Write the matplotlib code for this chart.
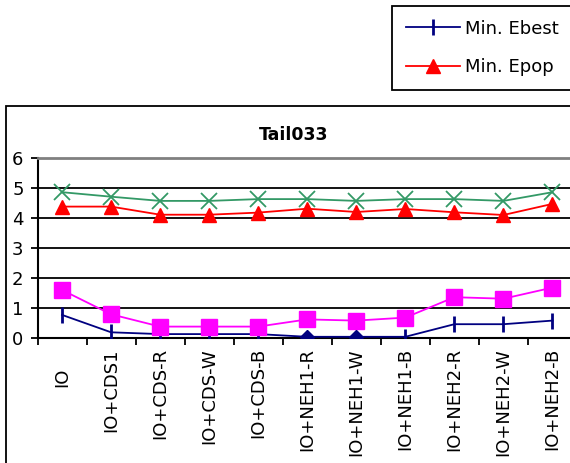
import numpy as np
import matplotlib
matplotlib.use("Agg")
import matplotlib.pyplot as plt
from matplotlib.patches import Rectangle
from matplotlib.transforms import ScaledTranslation

plt.rcParams['font.family'] = ['DejaVu Sans']

# categories along the x axis
labels = ['IO', 'IO+CDS1', 'IO+CDS-R', 'IO+CDS-W', 'IO+CDS-B',
          'IO+NEH1-R', 'IO+NEH1-W', 'IO+NEH1-B',
          'IO+NEH2-R', 'IO+NEH2-W', 'IO+NEH2-B']

# series
min_ebest = [0.78, 0.20, 0.14, 0.14, 0.14, 0.05, 0.05, 0.05, 0.47, 0.47, 0.59]
min_epop = [4.39, 4.39, 4.12, 4.12, 4.19, 4.32, 4.21, 4.31, 4.20, 4.11, 4.48]
magenta_vals = [1.61, 0.80, 0.39, 0.39, 0.39, 0.63, 0.59, 0.69, 1.37, 1.32, 1.69]
green_vals = [4.87, 4.72, 4.58, 4.58, 4.64, 4.64, 4.58, 4.64, 4.64, 4.58, 4.87]
# points where a diamond sits on the blue line
diamond_idx = [5, 6]

W, H = 570, 463
fig = plt.figure(figsize=(W / 100, H / 100), dpi=100)

# chart area border (cut by the image edges)
fig.patches.append(Rectangle((6 / W, -0.1), 1.2, (H - 106) / H + 0.1,
                             transform=fig.transFigure, fill=False,
                             edgecolor='black', linewidth=1.3))

x0, x1 = 37.5, 577.0
ybot, ytop = 338.3, 158.3
ax = fig.add_axes([x0 / W, (H - ybot) / H, (x1 - x0) / W, (ybot - ytop) / H])

x = np.arange(len(labels))
ebest_marks = [i for i in range(len(labels)) if i not in diamond_idx]

ax.plot(x, min_ebest, color='#000080', lw=1.3, marker='|', ms=11, mew=2,
        markevery=ebest_marks, label='Min. Ebest', zorder=5)
ax.plot(x[diamond_idx], [min_ebest[i] for i in diamond_idx], ls='none',
        marker='D', ms=7, color='#000080', zorder=6)
ax.plot(x, min_epop, color='red', lw=1.3, marker='^', ms=10,
        label='Min. Epop', zorder=5)
ax.plot(x, magenta_vals, color='#FF00FF', lw=1.3, marker='s', ms=11, zorder=5)
ax.plot(x, green_vals, color='#339966', lw=1.3, marker='x', ms=12, mew=1.3,
        zorder=5)

ax.set_xlim(-0.5, len(labels) - 0.5)
ax.set_ylim(0, 6)

for v in range(1, 6):
    ax.axhline(v, color='black', lw=1.3, zorder=1)

ax.spines['right'].set_visible(False)
ax.spines['top'].set_color('#808080')
ax.spines['top'].set_linewidth(2)
ax.spines['left'].set_linewidth(1.5)
ax.spines['bottom'].set_linewidth(1.5)

ax.set_yticks(range(0, 7))
ax.tick_params(axis='y', direction='out', length=5, width=1.3, labelsize=13, pad=5)
ax.set_xticks(np.arange(-0.5, len(labels), 1.0))
ax.set_xticklabels([])
ax.tick_params(axis='x', which='major', direction='out', length=5, width=1.3)
ax.set_xticks(x, minor=True)
ax.set_xticklabels(labels, minor=True, rotation=90, fontsize=13, va='top')
ax.tick_params(axis='x', which='minor', length=0, pad=7)

# the short "IO" label sits lower than the others
io_lab = ax.get_xticklabels(minor=True)[0]
io_lab.set_transform(io_lab.get_transform() +
                     ScaledTranslation(0, -0.2, fig.dpi_scale_trans))

fig.text(294 / W, 1 - 135 / H, 'Tail033', ha='center', va='center',
         fontsize=12.5, fontweight='bold')

leg = fig.legend(loc='upper left', bbox_to_anchor=(392 / W, 1 - 6 / H),
                 bbox_transform=fig.transFigure, fontsize=13,
                 fancybox=False, edgecolor='black', framealpha=1,
                 borderpad=0.75, labelspacing=1.15, handlelength=3.0,
                 handletextpad=0.3, borderaxespad=0)
leg.get_frame().set_linewidth(1.3)

fig.savefig('out.png', dpi=100)
